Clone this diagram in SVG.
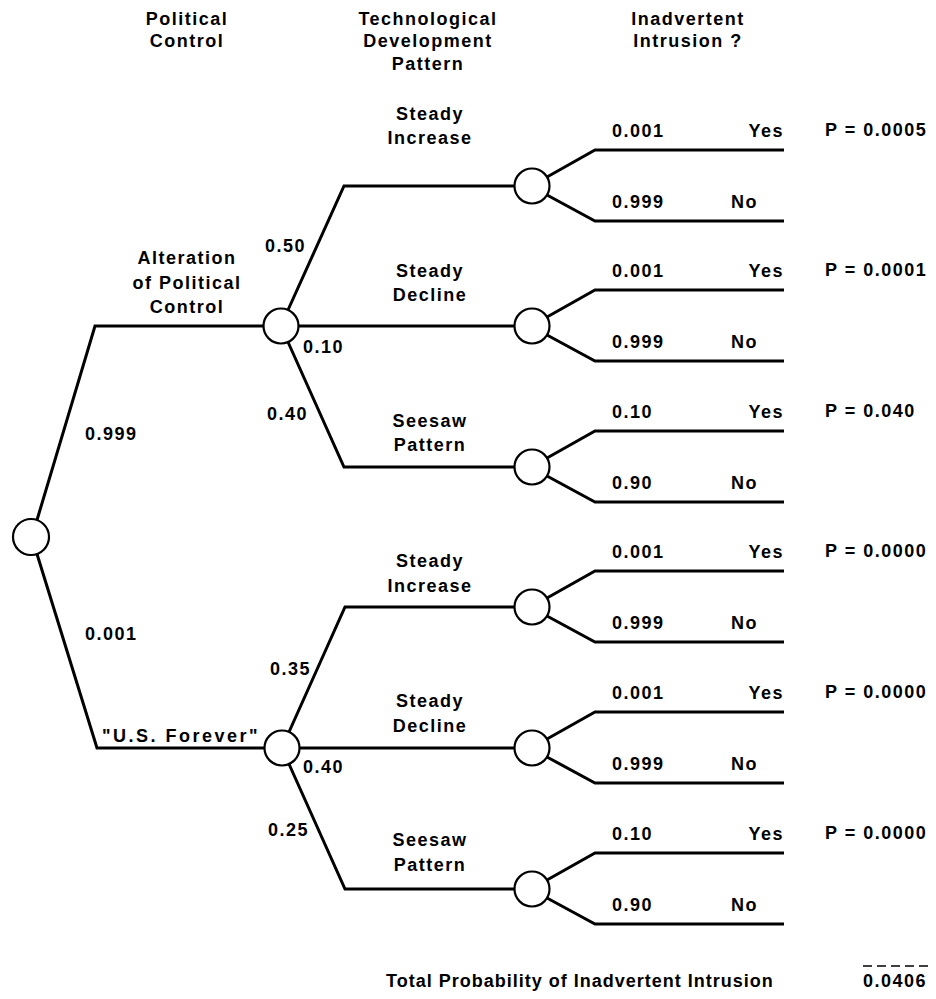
<svg xmlns="http://www.w3.org/2000/svg" width="936" height="999" viewBox="0 0 936 999">
  <style>
    text { font-family: "Liberation Sans", Arial, Helvetica, sans-serif; font-weight: bold; font-size: 18px; letter-spacing: 1.5px; fill: #000; }
    .c { text-anchor: middle; }
    .e { text-anchor: end; }
    .node { fill: #fff; stroke: #000; stroke-width: 2.2; }
    .edge { fill: none; stroke: #000; stroke-width: 3; stroke-linejoin: miter; }
  </style>

  <!-- column headings -->
  <g id="headings">
    <text class="c" x="187" y="25">Political</text>
    <text class="c" x="187" y="47">Control</text>
    <text class="c" x="428" y="25">Technological</text>
    <text class="c" x="428" y="47">Development</text>
    <text class="c" x="428" y="70">Pattern</text>
    <text class="c" x="688" y="25">Inadvertent</text>
    <text class="c" x="688" y="47">Intrusion ?</text>
  </g>

  <!-- connectors -->
  <g id="connectors" class="edge">
    <!-- root to political outcomes -->
    <path d="M37,520 L95,326 H263.5"/>
    <path d="M37,554 L97,748 H264.5"/>
    <!-- alteration of political control -->
    <path d="M288,310 L344,186 H514.5"/>
    <path d="M298.5,326 H514.5"/>
    <path d="M288,342 L344,467 H514.5"/>
    <!-- "U.S. Forever" -->
    <path d="M289,732 L345,607 H514.5"/>
    <path d="M299.5,748 H514.5"/>
    <path d="M289,764 L345,889 H514.5"/>
    <!-- intrusion branches -->
    <path d="M547,177 L595,150 H784"/>
    <path d="M547,195 L595,221 H784"/>
    <path d="M547,317 L595,290 H784"/>
    <path d="M547,335 L595,361 H784"/>
    <path d="M547,458 L595,431 H784"/>
    <path d="M547,476 L595,502 H784"/>
    <path d="M547,598 L595,571 H784"/>
    <path d="M547,616 L595,642 H784"/>
    <path d="M547,739 L595,712 H784"/>
    <path d="M547,757 L595,783 H784"/>
    <path d="M547,880 L595,853 H784"/>
    <path d="M547,898 L595,924 H784"/>
  </g>

  <!-- chance nodes -->
  <g id="root"><circle class="node" cx="31" cy="537" r="18"/></g>
  <g id="alteration">
    <circle class="node" cx="281" cy="326" r="17.5"/>
    <text class="c" x="187" y="264">Alteration</text>
    <text class="c" x="187" y="289">of Political</text>
    <text class="c" x="187" y="313">Control</text>
    <text x="85" y="440">0.999</text>
  </g>
  <g id="us-forever">
    <circle class="node" cx="282" cy="748" r="17.5"/>
    <text class="c" x="181" y="742" style="letter-spacing:2.5px">"U.S. Forever"</text>
    <text x="85" y="640">0.001</text>
  </g>

  <!-- technological development, alteration branch -->
  <g id="alt-increase">
    <circle class="node" cx="532" cy="186" r="17.5"/>
    <text class="c" x="430" y="120">Steady</text>
    <text class="c" x="430" y="144">Increase</text>
    <text x="265" y="252">0.50</text>
    <text x="612" y="137">0.001</text><text class="e" x="784" y="137">Yes</text>
    <text x="612" y="208">0.999</text><text x="731" y="208">No</text>
    <text x="825" y="136">P = 0.0005</text>
  </g>
  <g id="alt-decline">
    <circle class="node" cx="532" cy="326" r="17.5"/>
    <text class="c" x="430" y="277">Steady</text>
    <text class="c" x="430" y="301">Decline</text>
    <text x="303" y="353">0.10</text>
    <text x="612" y="277">0.001</text><text class="e" x="784" y="277">Yes</text>
    <text x="612" y="348">0.999</text><text x="731" y="348">No</text>
    <text x="825" y="276">P = 0.0001</text>
  </g>
  <g id="alt-seesaw">
    <circle class="node" cx="532" cy="467" r="17.5"/>
    <text class="c" x="430" y="427">Seesaw</text>
    <text class="c" x="430" y="451">Pattern</text>
    <text x="267" y="420">0.40</text>
    <text x="612" y="418">0.10</text><text class="e" x="784" y="418">Yes</text>
    <text x="612" y="489">0.90</text><text x="731" y="489">No</text>
    <text x="825" y="417">P = 0.040</text>
  </g>

  <!-- technological development, "U.S. Forever" branch -->
  <g id="us-increase">
    <circle class="node" cx="532" cy="607" r="17.5"/>
    <text class="c" x="430" y="567">Steady</text>
    <text class="c" x="430" y="592">Increase</text>
    <text x="270" y="675">0.35</text>
    <text x="612" y="558">0.001</text><text class="e" x="784" y="558">Yes</text>
    <text x="612" y="629">0.999</text><text x="731" y="629">No</text>
    <text x="825" y="557">P = 0.0000</text>
  </g>
  <g id="us-decline">
    <circle class="node" cx="532" cy="748" r="17.5"/>
    <text class="c" x="430" y="707">Steady</text>
    <text class="c" x="430" y="732">Decline</text>
    <text x="303" y="773">0.40</text>
    <text x="612" y="699">0.001</text><text class="e" x="784" y="699">Yes</text>
    <text x="612" y="770">0.999</text><text x="731" y="770">No</text>
    <text x="825" y="698">P = 0.0000</text>
  </g>
  <g id="us-seesaw">
    <circle class="node" cx="532" cy="889" r="17.5"/>
    <text class="c" x="430" y="846">Seesaw</text>
    <text class="c" x="430" y="871">Pattern</text>
    <text x="268" y="836">0.25</text>
    <text x="612" y="840">0.10</text><text class="e" x="784" y="840">Yes</text>
    <text x="612" y="911">0.90</text><text x="731" y="911">No</text>
    <text x="825" y="839">P = 0.0000</text>
  </g>

  <!-- total -->
  <g id="total">
    <text x="386" y="987" style="letter-spacing:1px">Total Probability of Inadvertent Intrusion</text>
    <line x1="863" y1="966" x2="928" y2="966" stroke="#000" stroke-width="1.6" stroke-dasharray="9 5"/>
    <text x="863" y="987">0.0406</text>
  </g>
</svg>
